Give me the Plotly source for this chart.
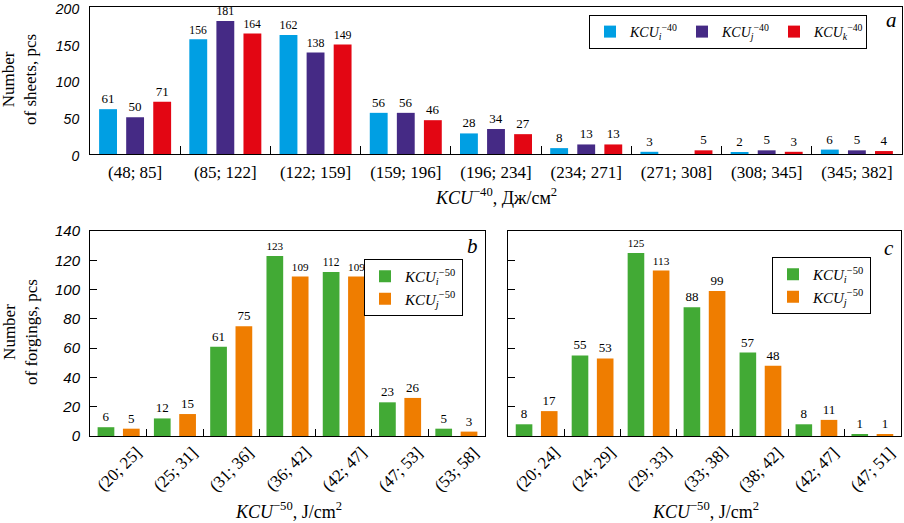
import plotly.graph_objects as go

W, H = 904, 523

# ---------------- data ----------------
cats_a = ["(48; 85]", "(85; 122]", "(122; 159]", "(159; 196]", "(196; 234]",
          "(234; 271]", "(271; 308]", "(308; 345]", "(345; 382]"]
a_i = [61, 156, 162, 56, 28, 8, 3, 2, 6]
a_j = [50, 181, 138, 56, 34, 13, 0, 5, 5]
a_k = [71, 164, 149, 46, 27, 13, 5, 3, 4]

cats_b = ["(20; 25]", "(25; 31]", "(31; 36]", "(36; 42]", "(42; 47]", "(47; 53]", "(53; 58]"]
b_i = [6, 12, 61, 123, 112, 23, 5]
b_j = [5, 15, 75, 109, 109, 26, 3]

cats_c = ["(20; 24]", "(24; 29]", "(29; 33]", "(33; 38]", "(38; 42]", "(42; 47]", "(47; 51]"]
c_i = [8, 55, 125, 88, 57, 8, 1]
c_j = [17, 53, 113, 99, 48, 11, 1]

yticks_a = [0, 50, 100, 150, 200]
yticks_bc = [0, 20, 40, 60, 80, 100, 120, 140]

# ---------------- style ----------------
SERIF = "Liberation Serif"
SANS = "Liberation Sans"
C_CYAN, C_PURPLE, C_RED = "#009FE3", "#452A85", "#E30613"
C_GREEN, C_ORANGE = "#42AA35", "#EF7D00"


def px_x(p):
    return p / W


def px_y(p):
    return 1 - p / H


def lbl(v):
    return [str(x) if x else "" for x in v]


def name(sub, sup):
    return f"<i>KCU</i><sub><i>{sub}</i></sub><sup>{sup}</sup>"


fig = go.Figure()
bar_text = dict(family=SERIF, size=13, color="black")

for vals, col, sub in [(a_i, C_CYAN, "i"), (a_j, C_PURPLE, "j"), (a_k, C_RED, "k")]:
    fig.add_trace(go.Bar(x=cats_a, y=vals, name=name(sub, "−40"), marker_color=col,
                         marker_line_width=0, text=lbl(vals), textposition="outside",
                         textfont=bar_text, cliponaxis=False, xaxis="x", yaxis="y",
                         legend="legend"))

for vals, col, sub in [(b_i, C_GREEN, "i"), (b_j, C_ORANGE, "j")]:
    fig.add_trace(go.Bar(x=cats_b, y=vals, name=name(sub, "−50"), marker_color=col,
                         marker_line_width=0, text=lbl(vals), textposition="outside",
                         textfont=bar_text, cliponaxis=False, xaxis="x2", yaxis="y2",
                         legend="legend2"))

for vals, col, sub in [(c_i, C_GREEN, "i"), (c_j, C_ORANGE, "j")]:
    fig.add_trace(go.Bar(x=cats_c, y=vals, name=name(sub, "−50"), marker_color=col,
                         marker_line_width=0, text=lbl(vals), textposition="outside",
                         textfont=bar_text, cliponaxis=False, xaxis="x3", yaxis="y3",
                         legend="legend3"))

frame = dict(showline=True, linecolor="black", linewidth=1, mirror=True,
             showgrid=False, zeroline=False)
ytickfont = dict(family=SANS, size=15, color="black", style="italic")
ytickfont_a = dict(family=SANS, size=14, color="black", style="italic")

dom_a_x = [px_x(90), px_x(902)]
dom_a_y = [px_y(154), px_y(7)]
dom_b_x = [px_x(90), px_x(485)]
dom_c_x = [px_x(508), px_x(901)]
dom_bc_y = [px_y(436), px_y(231)]

legend_common = dict(bordercolor="black", borderwidth=1, bgcolor="white",
                     itemwidth=30, tracegroupgap=0)

fig.update_layout(
    width=W, height=H,
    margin=dict(l=0, r=0, t=0, b=0, autoexpand=False),
    paper_bgcolor="white", plot_bgcolor="white",
    barmode="group", bargap=0.1, bargroupgap=0.34,
    showlegend=True,
    xaxis=dict(domain=dom_a_x, anchor="y", type="category", ticks="inside",
               tickson="boundaries", ticklen=8, tickcolor="black",
               tickfont=dict(family=SERIF, size=17, color="black"),
               ticklabelstandoff=3, **frame),
    yaxis=dict(domain=dom_a_y, anchor="x", range=[0, 200], tickvals=yticks_a,
               ticks="", tickfont=ytickfont_a, ticklabelstandoff=7, ticklabelshift=2,
               ticklabeloverflow="allow", **frame),
    xaxis2=dict(domain=dom_b_x, anchor="y2", type="category", ticks="inside",
                tickson="boundaries", ticklen=7, tickcolor="black",
                showticklabels=False, **frame),
    yaxis2=dict(domain=dom_bc_y, anchor="x2", range=[0, 140], tickvals=yticks_bc,
                ticks="inside", ticklen=7, tickcolor="black", tickfont=ytickfont,
                ticklabelstandoff=6, ticklabeloverflow="allow", **frame),
    xaxis3=dict(domain=dom_c_x, anchor="y3", type="category", ticks="inside",
                tickson="boundaries", ticklen=7, tickcolor="black",
                showticklabels=False, **frame),
    yaxis3=dict(domain=dom_bc_y, anchor="x3", range=[0, 140], tickvals=yticks_bc,
                ticks="inside", ticklen=7, tickcolor="black", showticklabels=False,
                **frame),
    legend=dict(orientation="h", x=px_x(867), y=px_y(15), xanchor="right", yanchor="top",
                entrywidth=47, entrywidthmode="pixels",
                font=dict(family=SERIF, size=14, color="black"), **legend_common),
    legend2=dict(orientation="v", x=px_x(463), y=px_y(259), xanchor="right", yanchor="top",
                 font=dict(family=SERIF, size=15, color="black"), **legend_common),
    legend3=dict(orientation="v", x=px_x(871), y=px_y(257), xanchor="right", yanchor="top",
                 font=dict(family=SERIF, size=15, color="black"), **legend_common),
)

ann = []
title_font = dict(family=SERIF, size=18, color="black")
ytitle_font = dict(family=SERIF, size=17, color="black")


def note(text, x, y, font, angle=0):
    return dict(text=text, x=px_x(x), y=px_y(y), xref="paper", yref="paper",
                xanchor="center", yanchor="middle", textangle=angle,
                showarrow=False, font=font)


# axis titles
ann.append(note("Number<br>of sheets, pcs", 20, 80, ytitle_font, -90))
ann.append(note("Number<br>of forgings, pcs", 20, 332, ytitle_font, -90))
ann.append(note("<i>KCU</i><sup>−40</sup>, Дж/см<sup>2</sup>", 496, 196, title_font))
ann.append(note("<i>KCU</i><sup>−50</sup>, J/cm<sup>2</sup>", 288, 510, title_font))
ann.append(note("<i>KCU</i><sup>−50</sup>, J/cm<sup>2</sup>", 705, 510, title_font))
# panel letters
letter_font = dict(family=SERIF, size=21, color="black", style="italic")
for t, x, y in [("a", 891, 20), ("b", 473, 246), ("c", 889, 248)]:
    ann.append(note(t, x, y, letter_font))
# rotated category labels for bottom panels
rot_font = dict(family=SERIF, size=17, color="black")
for cats, xr in [(cats_b, "x2"), (cats_c, "x3")]:
    for c in cats:
        ann.append(dict(text=c, x=c, xref=xr, y=px_y(469), yref="paper", textangle=-45,
                        xanchor="center", yanchor="middle", showarrow=False, font=rot_font))

fig.update_layout(annotations=ann)
fig.write_html("out.html", config={"displayModeBar": False},
               post_script="document.body.style.margin='0px';")
